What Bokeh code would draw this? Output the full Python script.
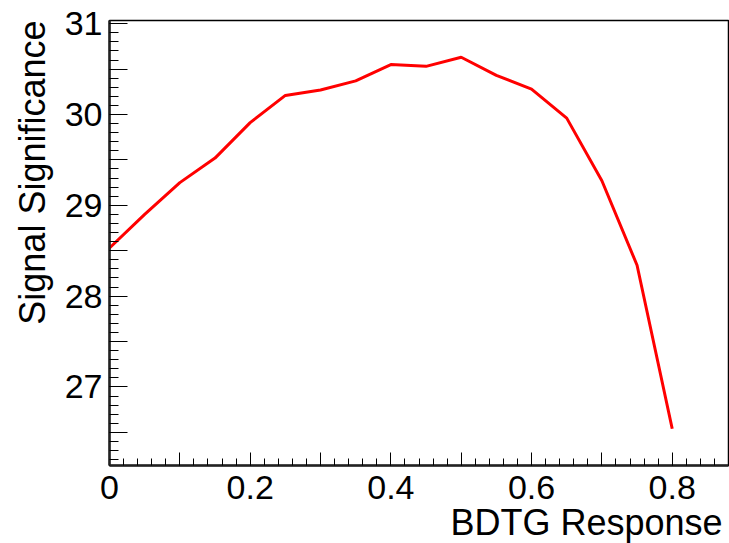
from bokeh.plotting import figure
from bokeh.models import FixedTicker, CustomJSTickFormatter, Range1d, Title
from bokeh.embed import file_html
from bokeh.resources import INLINE

bdtg_cut = [0.0, 0.05, 0.10, 0.15, 0.20, 0.25, 0.30, 0.35, 0.40,
            0.45, 0.50, 0.55, 0.60, 0.65, 0.70, 0.75, 0.80]
significance = [28.53, 28.90, 29.25, 29.52, 29.91, 30.21, 30.27, 30.37, 30.55,
                30.53, 30.63, 30.43, 30.28, 29.96, 29.27, 28.34, 26.54]

x_ticks = [0.0, 0.1, 0.2, 0.3, 0.4, 0.5, 0.6, 0.7, 0.8]
x_minor = [round(i * 0.02, 2) for i in range(0, 45)]
y_ticks = [26.5, 27.0, 27.5, 28.0, 28.5, 29.0, 29.5, 30.0, 30.5, 31.0]
y_minor = [round(26.2 + i * 0.1, 1) for i in range(0, 49)]

FONT = "Liberation Sans"

p = figure(width=729, height=543, output_backend="svg", toolbar_location=None,
           x_range=Range1d(0, 0.88), y_range=Range1d(26.135, 31.035),
           min_border_left=109, min_border_right=1, min_border_top=20,
           min_border_bottom=78)
p.background_fill_color = "white"
p.border_fill_color = "white"
p.xgrid.visible = False
p.ygrid.visible = False
p.outline_line_color = "black"
p.outline_line_width = 1.5

p.line(bdtg_cut, significance, line_color="#ff0000", line_width=3)

xa = p.xaxis[0]
xa.ticker = FixedTicker(ticks=x_ticks, minor_ticks=x_minor)
xa.formatter = CustomJSTickFormatter(code="""
    const k = Math.round(tick * 10);
    return (k % 2 == 0) ? (k / 10).toString() : "";
""")
xa.major_tick_in = 13
xa.major_tick_out = 0
xa.minor_tick_in = 7
xa.minor_tick_out = 0
xa.axis_line_width = 2.5
xa.axis_line_color = "#222222"
xa.major_tick_line_color = "black"
xa.minor_tick_line_color = "black"
xa.major_label_text_font = FONT
xa.major_label_text_font_size = "34px"
xa.major_label_text_color = "black"
xa.major_label_standoff = 10

ya = p.yaxis[0]
ya.ticker = FixedTicker(ticks=y_ticks, minor_ticks=y_minor)
ya.formatter = CustomJSTickFormatter(code="""
    const k = Math.round(tick * 2);
    return (k % 2 == 0) ? (k / 2).toString() : "";
""")
ya.major_tick_in = 18
ya.major_tick_out = 0
ya.minor_tick_in = 9
ya.minor_tick_out = 0
ya.axis_line_width = 2.5
ya.axis_line_color = "#222222"
ya.major_tick_line_color = "black"
ya.minor_tick_line_color = "black"
ya.major_label_text_font = FONT
ya.major_label_text_font_size = "34px"
ya.major_label_text_color = "black"
ya.major_label_standoff = 7

p.add_layout(Title(text="Signal Significance", align="right", text_font=FONT,
                   text_font_size="36px", text_font_style="normal",
                   text_color="black", offset=0, standoff=18), "left")

p.add_layout(Title(text="BDTG Response", align="right", text_font=FONT,
                   text_font_size="36px", text_font_style="normal",
                   text_color="black", offset=6, standoff=-4), "below")

open("out.html", "w").write(file_html(p, INLINE))
